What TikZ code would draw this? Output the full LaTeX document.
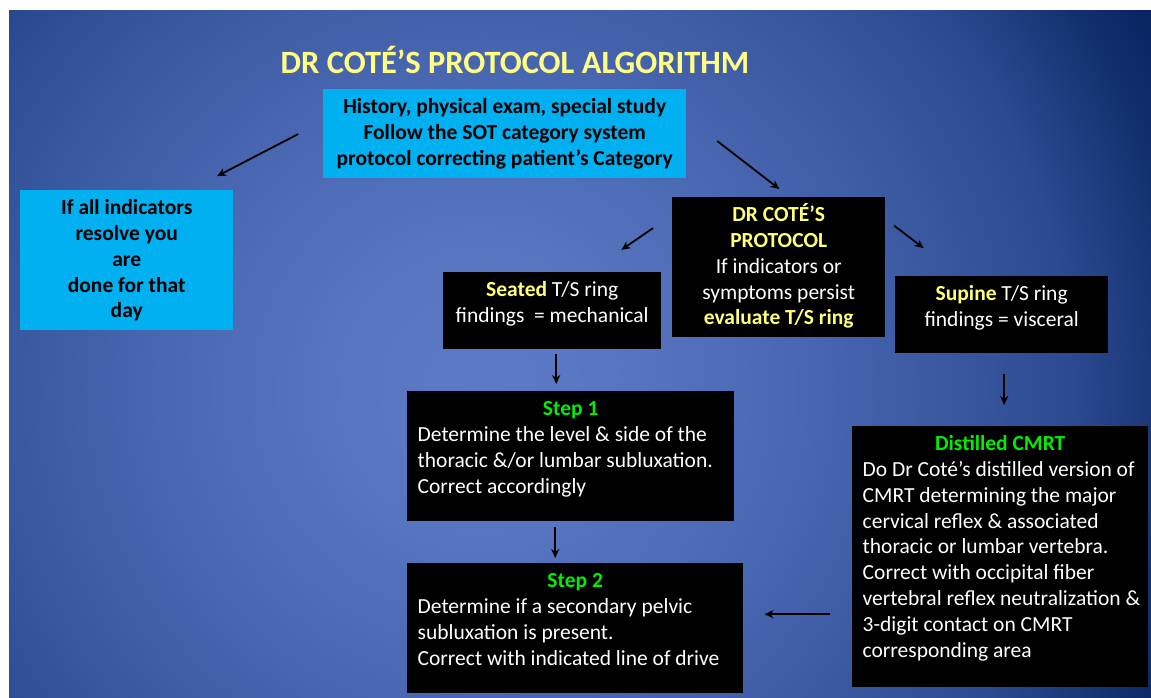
\documentclass[tikz,border=0pt]{standalone}
\usepackage{fontspec}
\setmainfont{Carlito}
\usetikzlibrary{arrows.meta}

\definecolor{cyanfill}{HTML}{00B0F0}
\definecolor{titleyellow}{HTML}{FFFF85}
\definecolor{keyyellow}{HTML}{FFFF7A}
\definecolor{stepgreen}{HTML}{00EE00}
% backdrop ramp, light middle to dark rim (path radius = 25bp)
\definecolor{bgA}{HTML}{5B79C5}
\definecolor{bgB}{HTML}{5876C1}
\definecolor{bgC}{HTML}{4B69B3}
\definecolor{bgD}{HTML}{3B5AA2}
\definecolor{bgE}{HTML}{2C4A91}
\definecolor{bgF}{HTML}{14316F}
\definecolor{bgG}{HTML}{092663}
\pgfdeclareradialshading{bgglow}{\pgfpoint{0bp}{0bp}}{%
  color(0bp)=(bgA); color(3.8bp)=(bgB); color(9.4bp)=(bgC); color(14.1bp)=(bgD);
  color(18.4bp)=(bgE); color(21.9bp)=(bgF); color(23.75bp)=(bgG); color(50bp)=(bgG)}

% width, height, content: text hangs from the top of the box
\newcommand{\boxtext}[3]{\parbox[c][#2][t]{#1}{\rule{0pt}{24.5pt}#3}}
\newcommand{\boxhead}[1]{{\centering\color{stepgreen}\bfseries #1\par}}
\newcommand{\boxbody}{\leftskip=10.5pt\rightskip=0pt plus 1fil\relax}
\newcommand{\key}[1]{{\color{keyyellow}\bfseries #1}}

\begin{document}
\begin{tikzpicture}[x=1pt, y=-1pt,
  cyanbox/.style={fill=cyanfill, text=black, inner sep=0pt, anchor=north west,
    font=\fontsize{21.5}{25.8}\selectfont\bfseries},
  blackbox/.style={fill=black, text=white, inner sep=0pt, anchor=north west,
    font=\fontsize{21.5}{25.8}\selectfont},
  arr/.style={-{Stealth[length=9pt,width=8pt]}, line width=1.8pt, black}]

\useasboundingbox (0,0) rectangle (1151,698);
\fill[white] (0,0) rectangle (1151,698);
\begin{scope}
  \clip (9,11) rectangle (1151,698);
  \shade[shading=bgglow] (480,390) circle[radius=800pt];
\end{scope}

\node[font=\fontsize{32.5}{36}\selectfont\bfseries, text=titleyellow, anchor=base]
  (title) at (515,74) {DR COTÉ’S PROTOCOL ALGORITHM};

% boxes
\node[cyanbox] (history) at (323,89) {\boxtext{363pt}{89pt}{\centering
  History, physical exam, special study\\Follow the SOT category system\\
  protocol correcting patient’s Category}};
\node[cyanbox] (done) at (20,190) {\boxtext{213pt}{140pt}{\centering
  If all indicators\\resolve you\\are\\done for that\\day}};
\node[blackbox] (protocol) at (672,197) {\boxtext{213pt}{140pt}{\centering
  \key{DR COTÉ’S\\PROTOCOL}\\If indicators or\\symptoms persist\\\key{evaluate T/S ring}}};
\node[blackbox] (seated) at (443,272) {\boxtext{218pt}{77pt}{\centering
  \key{Seated} T/S ring\\findings\ \ = mechanical}};
\node[blackbox] (supine) at (895,276) {\boxtext{213pt}{77pt}{\centering
  \key{Supine} T/S ring\\findings = visceral}};
\node[blackbox] (step1) at (407,391) {\boxtext{327pt}{130pt}{\boxhead{Step 1}\boxbody
  Determine the level \& side of the\\thoracic \&/or lumbar subluxation.\\
  Correct accordingly}};
\node[blackbox] (step2) at (407,563) {\boxtext{336pt}{130pt}{\boxhead{Step 2}\boxbody
  Determine if a secondary pelvic\\subluxation is present.\\
  Correct with indicated line of drive}};
\node[blackbox] (cmrt) at (852,426) {\boxtext{296pt}{261pt}{\boxhead{Distilled CMRT}\boxbody
  Do Dr Coté’s distilled version of\\CMRT determining the major\\
  cervical reflex \& associated\\thoracic or lumbar vertebra.\\
  Correct with occipital fiber\\vertebral reflex neutralization \&\\
  3-digit contact on CMRT\\corresponding area}};

% arrows
\draw[arr, shorten <=28pt, shorten >=30pt] ([yshift=12.5pt]history.west) -- ([xshift=-43pt]done.north east);
\draw[arr, shorten <=39pt, shorten >=13pt] ([yshift=16.5pt]history.east) -- ([xshift=11pt]protocol.north);
\draw[arr, shorten <=23pt, shorten >=39pt] ([yshift=-18pt]protocol.north west) -- ([xshift=37pt]seated.north);
\draw[arr, shorten <=11pt, shorten >=46pt] ([yshift=-22pt]protocol.north east) -- ([xshift=-41.5pt]supine.north);
\draw[arr, shorten <=5pt, shorten >=7pt] ([xshift=4pt]seated.south) -- ([xshift=4pt]seated.south |- step1.north);
\draw[arr, shorten <=6pt, shorten >=5pt] ([xshift=-15.5pt]step1.south) -- ([xshift=-15.5pt]step1.south |- step2.north);
\draw[arr, shorten <=21pt, shorten >=21pt] ([xshift=2.5pt]supine.south) -- ([xshift=2.5pt]supine.south |- cmrt.north);
\draw[arr, shorten <=22pt, shorten >=21pt] ([yshift=14pt]step2.east -| cmrt.west) -- ([yshift=14pt]step2.east);
\end{tikzpicture}
\end{document}
